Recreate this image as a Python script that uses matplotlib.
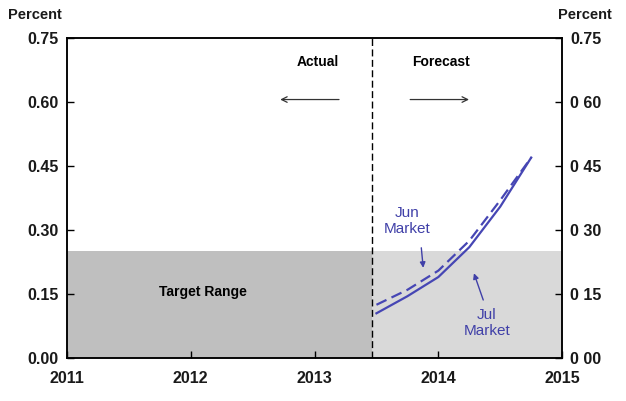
import numpy as np
import matplotlib.pyplot as plt

plt.rcParams['font.family'] = ['Liberation Sans', 'DejaVu Sans']

# data
quarters = [2013.5, 2013.75, 2014.0, 2014.25, 2014.5, 2014.75]
jul_market = [0.105, 0.145, 0.19, 0.26, 0.355, 0.47]
jun_market = [0.125, 0.16, 0.205, 0.275, 0.37, 0.47]
target_top = 0.25
split_date = 2013.46
yticks = [0.0, 0.15, 0.30, 0.45, 0.60, 0.75]
left_labels = ['0.00', '0.15', '0.30', '0.45', '0.60', '0.75']
right_labels = ['0 00', '0 15', '0 30', '0 45', '0 60', '0.75']
xticks = [2011, 2012, 2013, 2014, 2015]

line_col = '#4646b4'
txt_col = '#4040a8'

fig = plt.figure(figsize=(6.26, 4.01), dpi=100)
ax = fig.add_axes([0.107, 0.107, 0.791, 0.798])

ax.axvspan(2011, split_date, ymin=0, ymax=target_top / 0.75, color='#bfbfbf', lw=0)
ax.axvspan(split_date, 2015, ymin=0, ymax=target_top / 0.75, color='#d9d9d9', lw=0)
ax.axvline(split_date, color='black', lw=1, ls=(0, (5, 2.5)))

ax.plot(quarters, jul_market, color=line_col, lw=1.6)
ax.plot(quarters, jun_market, color=line_col, lw=1.6, ls=(0, (5, 2.5)))

ax.set_xlim(2011, 2015)
ax.set_ylim(0, 0.75)
ax.set_xticks(xticks)
ax.set_xticklabels([str(x) for x in xticks])
ax.set_yticks(yticks)
ax.set_yticklabels(left_labels)
ax.tick_params(direction='in', length=5, width=1, labelsize=11.5, pad=6)
ax.tick_params(axis='x', pad=9)
for lab in ax.get_xticklabels() + ax.get_yticklabels():
    lab.set_fontweight('bold')
    lab.set_color('#1a1a1a')

ax2 = ax.twinx()
ax2.set_ylim(0, 0.75)
ax2.set_yticks(yticks)
ax2.set_yticklabels(right_labels)
ax2.tick_params(direction='in', length=5, width=1, labelsize=11.5, pad=6)
for lab in ax2.get_yticklabels():
    lab.set_fontweight('bold')
    lab.set_color('#1a1a1a')

for a in (ax, ax2):
    for s in a.spines.values():
        s.set_linewidth(1.1)

fig.text(0.056, 0.962, 'Percent', ha='center', va='center', fontsize=10.5, fontweight='bold', color='#1a1a1a')
fig.text(0.935, 0.962, 'Percent', ha='center', va='center', fontsize=10.5, fontweight='bold', color='#1a1a1a')

ax.text(2013.03, 0.695, 'Actual', ha='center', va='center', fontsize=10, fontweight='bold')
ax.text(2014.02, 0.695, 'Forecast', ha='center', va='center', fontsize=10, fontweight='bold')
ax.annotate('', xy=(2012.7, 0.606), xytext=(2013.22, 0.606),
            arrowprops=dict(arrowstyle='->', color='#333333', lw=0.9))
ax.annotate('', xy=(2014.27, 0.606), xytext=(2013.75, 0.606),
            arrowprops=dict(arrowstyle='->', color='#333333', lw=0.9))
ax.text(2012.1, 0.155, 'Target Range', ha='center', va='center', fontsize=10, fontweight='bold')

ax.text(2013.75, 0.322, 'Jun\nMarket', ha='center', va='center', fontsize=11,
        color=txt_col, linespacing=1.15)
ax.annotate('', xy=(2013.88, 0.205), xytext=(2013.86, 0.265),
            arrowprops=dict(arrowstyle='-|>', color=txt_col, lw=1, mutation_scale=8))
ax.text(2014.39, 0.083, 'Jul\nMarket', ha='center', va='center', fontsize=11,
        color=txt_col, linespacing=1.15)
ax.annotate('', xy=(2014.28, 0.205), xytext=(2014.37, 0.13),
            arrowprops=dict(arrowstyle='-|>', color=txt_col, lw=1, mutation_scale=8))

fig.savefig('out.png', dpi=100)
